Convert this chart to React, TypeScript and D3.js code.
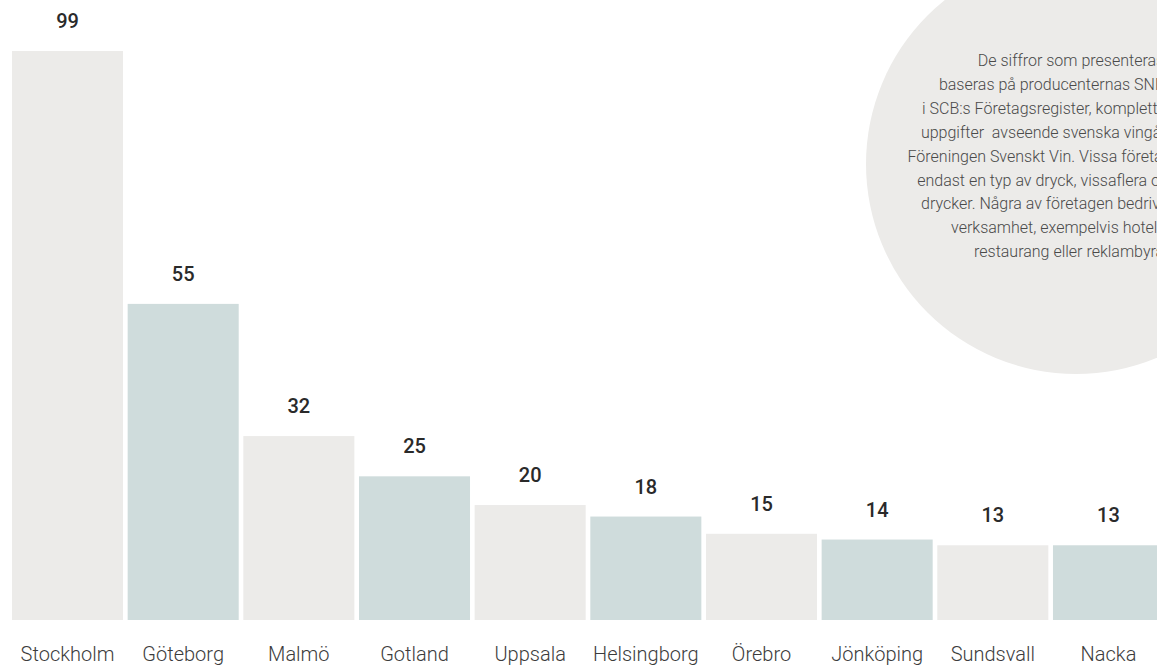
import React from "react";
import * as d3 from "d3";

const categories = ["Stockholm", "Göteborg", "Malmö", "Gotland", "Uppsala", "Helsingborg", "Örebro", "Jönköping", "Sundsvall", "Nacka"];
const values = [99, 55, 32, 25, 20, 18, 15, 14, 13, 13];
const noteLines = [
  "De siffror som presenteras",
  "baseras på producenternas SNI-koder",
  "i SCB:s Företagsregister, kompletterat med",
  "uppgifter  avseende svenska vingårdar från",
  "Föreningen Svenskt Vin. Vissa företag tillverkar",
  "endast en typ av dryck, vissaflera olika slags",
  "drycker. Några av företagen bedriver annan",
  "verksamhet, exempelvis hotell och",
  "restaurang eller reklambyrå.",
];
const barColors = ["#ECEBE9", "#CFDCDC"];

const W = 1157;
const H = 668;

export default function App() {
  const x = d3.scaleBand<string>().domain(categories).range([12, 1164]).paddingInner(0.04).paddingOuter(0);
  const y = d3.scaleLinear().domain([0, 99]).range([620, 51]);
  const font = "Roboto, 'Noto Sans', sans-serif";
  return (
    <svg width={W} height={H} style={{ position: "absolute", left: 0, top: 0, background: "#fff" }}>
      <circle cx={1076} cy={164} r={210} fill="#ECEBE9" />
      <g fontFamily={font} fontSize={16} fontWeight={300} fill="#4a4a4a" textAnchor="middle">
        {noteLines.map((l, i) => (
          <text key={i} x={1071} y={66 + i * 23.9} style={{ whiteSpace: "pre" }}>{l}</text>
        ))}
      </g>
      {categories.map((c, i) => {
        const x0 = x(c)!;
        const bw = x.bandwidth();
        const top = y(values[i]);
        return (
          <g key={c}>
            <rect x={x0} y={top} width={bw} height={y(0) - top} fill={barColors[i % 2]} />
            <text x={x0 + bw / 2} y={top - 23} textAnchor="middle" fontFamily={font} fontSize={20} fontWeight={500} fill="#2a2a2a">
              {values[i]}
            </text>
            <text x={x0 + bw / 2} y={661} textAnchor="middle" fontFamily={font} fontSize={20} fontWeight={300} fill="#3c3c3c">
              {c}
            </text>
          </g>
        );
      })}
    </svg>
  );
}
